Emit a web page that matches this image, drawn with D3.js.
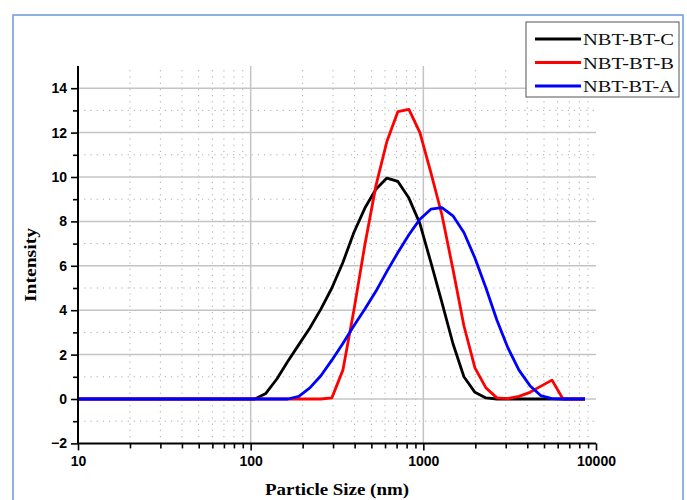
<!DOCTYPE html>
<html><head><meta charset="utf-8">
<script src="https://cdn.jsdelivr.net/npm/d3@7"></script>
<style>body{margin:0;background:#fff;overflow:hidden}</style>
</head><body>
<svg id="c" width="687" height="500"></svg>
<script>
// Particle size bins (nm)
const sizes = [10.10, 11.70, 13.54, 15.69, 18.17, 21.04, 24.36, 28.21, 32.67, 37.84,
  43.82, 50.75, 58.77, 68.06, 78.82, 91.28, 105.7, 122.4, 141.8, 164.2,
  190.1, 220.2, 255.0, 295.3, 342.0, 396.1, 458.7, 531.2, 615.1, 712.4,
  825.0, 955.4, 1106, 1281, 1484, 1718, 1990, 2305, 2669, 3091,
  3580, 4145, 4801, 5560, 6439, 7456, 8635];
const intensityC = [0,0,0,0,0,0,0,0,0,0, 0,0,0,0,0,0,0, 0.25,0.9,1.7,
  2.45,3.2,4.05,5.0,6.15,7.5,8.6,9.45,9.95,9.8,
  9.05,7.9,6.15,4.35,2.5,1.0,0.3,0.05,0,0,
  0,0,0,0,0,0,0];
const intensityB = [0,0,0,0,0,0,0,0,0,0, 0,0,0,0,0,0,0,0,0,0,
  0,0,0,0.05,1.3,4.0,6.95,9.6,11.6,12.95,
  13.05,12.0,10.2,8.3,5.85,3.3,1.4,0.5,0.05,0.02,
  0.12,0.3,0.58,0.85,0,0,0];
const intensityA = [0,0,0,0,0,0,0,0,0,0, 0,0,0,0,0,0,0,0,0,0,
  0.12,0.5,1.05,1.75,2.5,3.3,4.05,4.85,5.75,6.6,
  7.4,8.1,8.55,8.62,8.25,7.5,6.35,5.0,3.55,2.3,
  1.3,0.6,0.15,0.02,0,0,0];
const seriesNames = ["NBT-BT-C", "NBT-BT-B", "NBT-BT-A"];
const seriesColors = ["#000000", "#ff0000", "#0000ff"];
const xMajorTicks = [10, 100, 1000, 10000];
const xMinorTicks = [20,30,40,50,60,70,80,90,200,300,400,500,600,700,800,900,2000,3000,4000,5000,6000,7000,8000,9000];
const yMajorTicks = [-2, 0, 2, 4, 6, 8, 10, 12, 14];
const yMinorTicks = [-1, 1, 3, 5, 7, 9, 11, 13];
const xTitle = "Particle Size (nm)";
const yTitle = "Intensity";

const svg = d3.select("#c");
const x = d3.scaleLog().domain([10, 10000]).range([78, 596]);
const y = d3.scaleLinear().domain([-2, 15]).range([443.4, 66]);

// outer frame
svg.append("rect").attr("x", 13).attr("y", 15).attr("width", 670).attr("height", 500)
  .attr("fill", "none").attr("stroke", "#6b9bd6").attr("stroke-width", 1.5);

const grid = svg.append("g");
// minor dotted grid
grid.selectAll(".vmin").data(xMinorTicks).join("line")
  .attr("x1", d => x(d)).attr("x2", d => x(d)).attr("y1", y(-2)).attr("y2", y(15))
  .attr("stroke", "#aaaaaa").attr("stroke-width", 1).attr("stroke-dasharray", "1.2,5");
grid.selectAll(".hmin").data(yMinorTicks).join("line")
  .attr("y1", d => y(d)).attr("y2", d => y(d)).attr("x1", x(10)).attr("x2", x(10000))
  .attr("stroke", "#aaaaaa").attr("stroke-width", 1).attr("stroke-dasharray", "1.2,5");
// major solid grid
grid.selectAll(".vmaj").data(xMajorTicks.slice(1, 3)).join("line")
  .attr("x1", d => x(d)).attr("x2", d => x(d)).attr("y1", y(-2)).attr("y2", y(15))
  .attr("stroke", "#c4c4c4").attr("stroke-width", 1.5);
grid.selectAll(".hmaj").data(yMajorTicks.slice(1)).join("line")
  .attr("y1", d => y(d)).attr("y2", d => y(d)).attr("x1", x(10)).attr("x2", x(10000))
  .attr("stroke", "#c4c4c4").attr("stroke-width", 1.5);

// series
const series = [intensityC, intensityB, intensityA];
const line = d3.line().x(d => x(d[0])).y(d => y(d[1]));
series.forEach((vals, i) => {
  svg.append("path")
    .datum(sizes.map((s, k) => [s, vals[k]]))
    .attr("d", line).attr("fill", "none")
    .attr("stroke", seriesColors[i]).attr("stroke-width", 2.8)
    .attr("stroke-linejoin", "round");
});

// axes
const xAxis = d3.axisBottom(x).tickValues(xMajorTicks).tickFormat(d3.format("d")).tickSize(7).tickPadding(6);
const gx = svg.append("g").attr("transform", `translate(0,${y(-2)})`).call(xAxis);
const gxm = svg.append("g").attr("transform", `translate(0,${y(-2)})`)
  .call(d3.axisBottom(x).tickValues(xMinorTicks).tickFormat("").tickSize(5));
gxm.select(".domain").remove();

const yAxis = d3.axisLeft(y).tickValues(yMajorTicks).tickSize(7).tickPadding(4);
const gy = svg.append("g").attr("transform", `translate(${x(10)},0)`).call(yAxis);
const gym = svg.append("g").attr("transform", `translate(${x(10)},0)`)
  .call(d3.axisLeft(y).tickValues(yMinorTicks).tickFormat("").tickSize(5));
gym.select(".domain").remove();

[gx, gy, gxm, gym].forEach(g => {
  g.selectAll("path.domain").attr("stroke", "#000").attr("stroke-width", 2);
  g.selectAll(".tick line").attr("stroke", "#000").attr("stroke-width", 1.6);
  g.selectAll(".tick text").attr("fill", "#000")
    .style("font-family", "'Liberation Sans', Arial, sans-serif")
    .style("font-weight", "bold").style("font-size", "14px");
});
gx.select("path.domain").attr("d", `M${x(10)},0H${x(10000)}`);
gy.select("path.domain").attr("d", `M0,${y(-2)}V${y(15)}`);

// axis titles
svg.append("text").attr("x", 337).attr("y", 495).attr("text-anchor", "middle")
  .style("font-family", "'Liberation Serif', 'Times New Roman', serif")
  .style("font-weight", "bold").style("font-size", "17px")
  .attr("textLength", 144).attr("lengthAdjust", "spacingAndGlyphs")
  .text(xTitle);
svg.append("text").attr("transform", "translate(36,265) rotate(-90)").attr("text-anchor", "middle")
  .style("font-family", "'Liberation Serif', 'Times New Roman', serif")
  .style("font-weight", "bold").style("font-size", "17px")
  .attr("textLength", 74).attr("lengthAdjust", "spacingAndGlyphs")
  .text(yTitle);

// legend
const lg = svg.append("g");
lg.append("rect").attr("x", 526).attr("y", 22).attr("width", 153).attr("height", 75)
  .attr("fill", "#fff").attr("stroke", "#555").attr("stroke-width", 1);
seriesNames.forEach((name, i) => {
  const ly = 39 + i * 23.5;
  lg.append("line").attr("x1", 535).attr("x2", 581).attr("y1", ly).attr("y2", ly)
    .attr("stroke", seriesColors[i]).attr("stroke-width", 2.8);
  lg.append("text").attr("x", 583).attr("y", ly + 6)
    .style("font-family", "'Liberation Serif', 'Times New Roman', serif")
    .style("font-size", "17px").attr("fill", "#111")
    .attr("textLength", 91).attr("lengthAdjust", "spacingAndGlyphs")
    .text(name);
});
</script>
</body></html>
